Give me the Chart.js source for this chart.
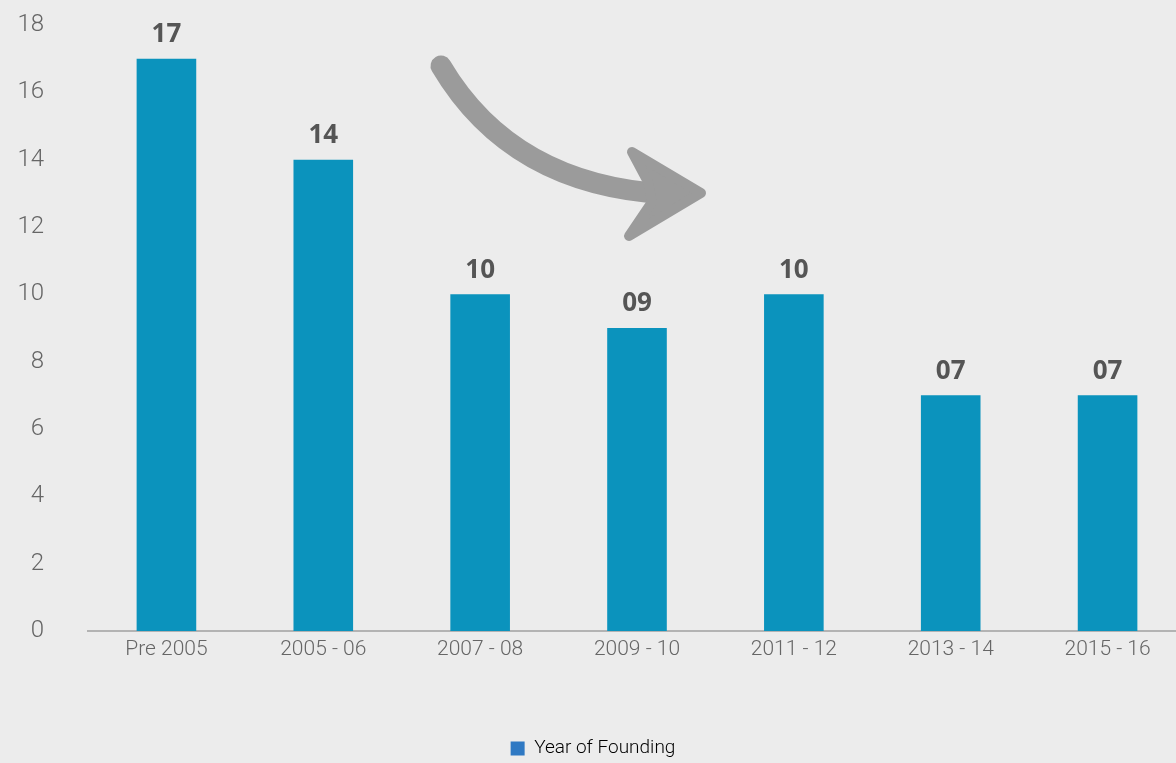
<!DOCTYPE html>
<html lang="en">
<head>
<meta charset="UTF-8"/>
<script src="https://cdn.jsdelivr.net/npm/chart.js"></script>
<style>
  html, body { margin: 0; padding: 0; background: #ececec; overflow: hidden; }
  #wrap { width: 1186px; height: 763px; }
</style>
</head>
<body>
<div id="wrap"><canvas id="foundingChart" width="1186" height="763"></canvas></div>
<script type="application/javascript">
const periods = ['Pre 2005', '2005 - 06', '2007 - 08', '2009 - 10', '2011 - 12', '2013 - 14', '2015 - 16'];
const startups = [17, 14, 10, 9, 10, 7, 7];
const yTicks = [0, 2, 4, 6, 8, 10, 12, 14, 16, 18];

const barColour = '#0b93bd';
const legendColour = '#2f79c3';
const textGrey = '#666666';

// value labels above each bar, zero padded to two digits
const valueLabels = {
    id: 'valueLabels',
    afterDatasetsDraw(chart) {
        const ctx = chart.ctx;
        const meta = chart.getDatasetMeta(0);
        ctx.save();
        ctx.font = '700 26px "Open Sans", sans-serif';
        ctx.fillStyle = '#555555';
        ctx.textAlign = 'center';
        ctx.textBaseline = 'bottom';
        meta.data.forEach((bar, i) => {
            const v = chart.data.datasets[0].data[i];
            ctx.fillText(String(v).padStart(2, '0'), bar.x, bar.y - 11);
        });
        ctx.restore();
    }
};

// the grey curved arrow over the middle of the chart
const trendArrow = {
    id: 'trendArrow',
    afterDatasetsDraw(chart) {
        const ctx = chart.ctx;
        ctx.save();
        ctx.strokeStyle = '#9b9b9b';
        ctx.fillStyle = '#9b9b9b';
        ctx.lineCap = 'round';
        ctx.lineWidth = 21;
        ctx.beginPath();
        ctx.moveTo(441, 66);
        ctx.quadraticCurveTo(512, 186, 668, 194);
        ctx.stroke();
        ctx.lineJoin = 'round';
        ctx.lineWidth = 10;
        ctx.beginPath();
        ctx.moveTo(632, 152);
        ctx.lineTo(701, 193);
        ctx.lineTo(629, 236);
        ctx.lineTo(652, 202);
        ctx.lineTo(648, 182);
        ctx.closePath();
        ctx.fill();
        ctx.stroke();
        ctx.restore();
    }
};

const config = {
    type: 'bar',
    data: {
        labels: periods,
        datasets: [{
            label: 'Year of Founding',
            data: startups,
            backgroundColor: barColour,
            barPercentage: 0.38,
            categoryPercentage: 1
        }]
    },
    options: {
        responsive: false,
        animation: false,
        layout: { padding: { top: 0, right: 0, bottom: -5, left: 0 } },
        plugins: {
            tooltip: { enabled: false },
            legend: {
                position: 'bottom',
                labels: {
                    color: textGrey,
                    font: { family: 'Roboto', size: 19, weight: '300' },
                    boxWidth: 14,
                    boxHeight: 14,
                    padding: 4,
                    generateLabels: (chart) => [{
                        text: chart.data.datasets[0].label,
                        fillStyle: legendColour,
                        strokeStyle: legendColour,
                        lineWidth: 0,
                        datasetIndex: 0
                    }]
                }
            }
        },
        scales: {
            x: {
                grid: { display: false, drawTicks: false },
                border: { color: '#b3b3b3', width: 2 },
                ticks: {
                    color: textGrey,
                    font: { family: 'Roboto', size: 21, weight: '300' },
                    padding: 6
                },
                afterFit: (scale) => { scale.height = 104; }
            },
            y: {
                min: 0,
                max: 18,
                grid: { display: false, drawTicks: false },
                border: { display: false },
                afterBuildTicks: (scale) => { scale.ticks = yTicks.map(value => ({value})); },
                ticks: {
                    color: textGrey,
                    font: { family: 'Roboto', size: 24, weight: '300' },
                    padding: 44
                },
                afterFit: (scale) => {
                    // tick padding is only meant to push labels left, not down
                    scale.width = 88;
                    scale.paddingTop = 25;
                    scale.paddingBottom = 12;
                }
            }
        }
    },
    plugins: [valueLabels, trendArrow]
};

const ctx = document.getElementById('foundingChart');
const foundingChart = new Chart(ctx, config);
</script>
</body>
</html>
